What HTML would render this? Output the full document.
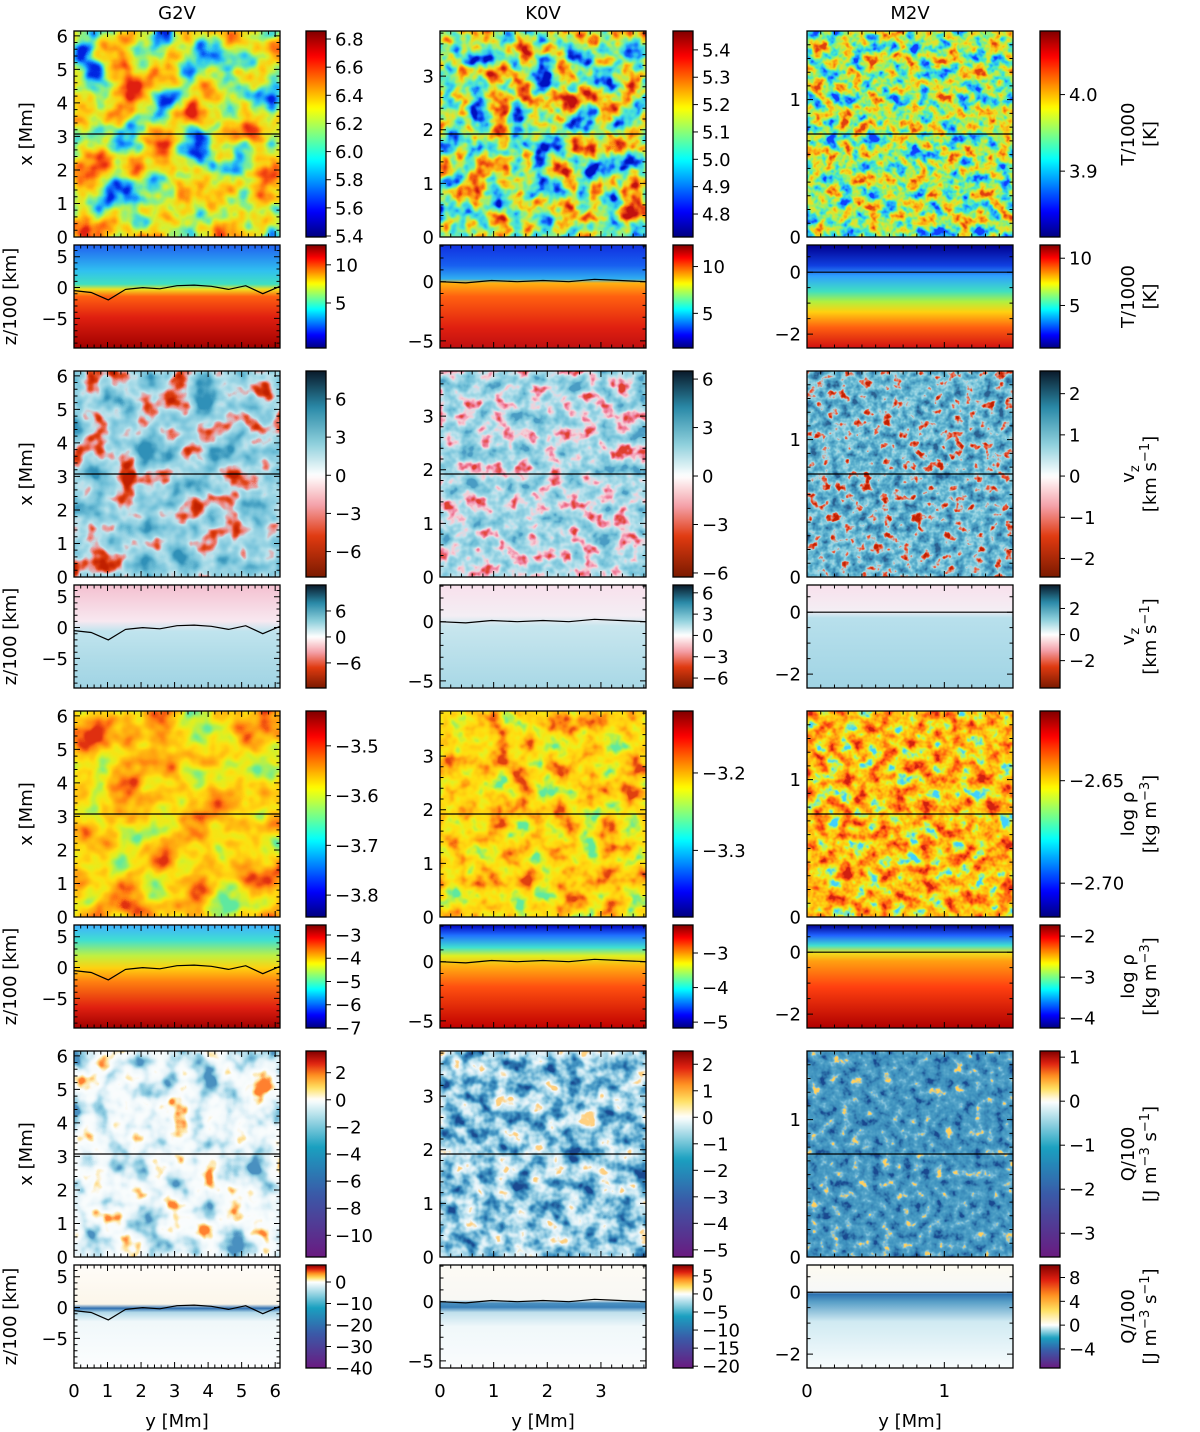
<!DOCTYPE html>
<html><head><meta charset="utf-8">
<style>
html,body{margin:0;padding:0;background:#fff;}
svg{display:block;font-family:"DejaVu Sans","Liberation Sans",sans-serif;}
</style></head>
<body>
<svg id="fig" width="1200" height="1432" viewBox="0 0 1200 1432" xmlns="http://www.w3.org/2000/svg">
<defs id="defs"></defs>
</svg>
<script>
// ---------- data ----------
const starNames = ["G2V","K0V","M2V"];
const extentMm = [6.144, 3.84, 1.5];
const xTicks = [[0,1,2,3,4,5,6],[0,1,2,3],[0,1]];
const xMinorStep = [0.2, 0.2, 0.1];
const zRange = [[-9.8,6.9],[-5.6,3.1],[-2.45,0.88]];
const zTicks = [[-5,0,5],[-5,0],[-2,0]];
const zMinorStep = [1, 1, 0.5];
const zeroLineG2V = [-0.5,-0.8,-2.0,-0.3,0.0,-0.2,0.3,0.4,0.2,-0.3,0.3,-1.0,0.2];
const zeroLineK0V = [0.0,-0.1,0.1,0.0,0.1,0.0,0.2,0.1,0.0];
const zeroLineM2V = [0,0,0,0,0];
const zeroLines = [zeroLineG2V, zeroLineK0V, zeroLineM2V];

const cbTRangeTop = [[5.393,6.857],[4.716,5.469],[3.814,4.083]];
const cbTTicksTop = [[5.4,5.6,5.8,6.0,6.2,6.4,6.6,6.8],[4.8,4.9,5.0,5.1,5.2,5.3,5.4],[3.9,4.0]];
const cbTRangeSide = [[-0.9,12.6],[1.3,12.3],[0.5,11.4]];
const cbTTicksSide = [[5,10],[5,10],[5,10]];
const cbVRangeTop = [[-8.0,8.2],[-6.25,6.5],[-2.45,2.55]];
const cbVTicksTop = [[-6,-3,0,3,6],[-6,-3,0,3,6],[-2,-1,0,1,2]];
const cbVRangeSide = [[-11.8,12],[-7.4,7.1],[-4.1,3.8]];
const cbVTicksSide = [[-6,0,6],[-6,-3,0,3,6],[-2,0,2]];
const cbRRangeTop = [[-3.844,-3.43],[-3.386,-3.12],[-2.7165,-2.616]];
const cbRTicksTop = [[-3.8,-3.7,-3.6,-3.5],[-3.3,-3.2],[-2.70,-2.65]];
const cbRRangeSide = [[-7.0,-2.57],[-5.17,-2.19],[-4.24,-1.73]];
const cbRTicksSide = [[-7,-6,-5,-4,-3],[-5,-4,-3],[-4,-3,-2]];
const cbQRangeTop = [[-11.6,3.6],[-5.27,2.5],[-3.54,1.14]];
const cbQTicksTop = [[-10,-8,-6,-4,-2,0,2],[-5,-4,-3,-2,-1,0,1,2],[-3,-2,-1,0,1]];
const cbQRangeSide = [[-40,7.9],[-20.5,8],[-7.2,10.1]];
const cbQTicksSide = [[-40,-30,-20,-10,0],[-20,-15,-10,-5,0,5],[-4,0,4,8]];
const tickDecimals = [[1,1,1],[0,0,0],[0,0,0],[0,0,0],[1,1,2],[0,0,0],[0,0,0],[0,0,0]];

const rightLabels = [["T/1000","[K]"],["T/1000","[K]"],["v_z","[km s^-1]"],["v_z","[km s^-1]"],["log ρ","[kg m^-3]"],["log ρ","[kg m^-3]"],["Q/100","[J m^-3 s^-1]"],["Q/100","[J m^-3 s^-1]"]];

const texT = [["#0020e0","#1080ff","#30d0f0","#80f090","#d8f030","#ffd010","#ffa010","#ff6010","#e02010"],
              ["#0010c0","#1060ff","#30c8f0","#50e8d0","#a0f070","#f0e020","#ffa010","#f05010","#c01010"],
              ["#1040ff","#20b0ff","#40e8d0","#a0f060","#f0e020","#ffa010","#e04010"]];
const texV = [["#c02000","#e04010","#f09090","#c0e4ee","#a0d8e6","#88cce0","#70c0d8","#50a8c8","#3090b8"],
              ["#e04030","#f080a0","#f8d0d8","#c0e4ee","#a0d8e6","#88cce0","#70c0d8","#4a9cc4"],
              ["#c02000","#f06040","#a8dce8","#80c8dc","#60b4d0","#4aa0c4","#3a88b4","#2a6090"]];
const texR = [["#60e8a0","#a0f060","#e0f020","#ffe010","#ffc010","#ffa010","#ff7010","#e03010"],
              ["#60e8a0","#b0f050","#e8f020","#ffe010","#ffd010","#ffb010","#ff8010","#e04010"],
              ["#40d0ff","#90f0a0","#e8f020","#ffd010","#ffb010","#ff8010","#ff5010","#d02010"]];
const texQ = [["#4a90c0","#80c4dc","#b0dcec","#d8eef6","#eef7fb","#f8fcfd","#fbfdfe","#ffe090","#ff8030"],
              ["#1a4a90","#2a78b0","#4a9cc8","#80c0dc","#b0dcec","#d8eef6","#f0f8fb","#ffd080"],
              ["#1a4a90","#2a70a8","#3a88b8","#4094c0","#4a9cc4","#5aa8cc","#80c0dc","#ffd060"]];
const texFreq = [0.028, 0.045, 0.075];

const sideT = [[[0,"#2060f0"],[0.25,"#30c0f0"],[0.38,"#40e0c0"],[0.43,"#f0e020"],[0.5,"#ff6010"],[0.7,"#e02010"],[1,"#a00000"]],
               [[0,"#1030e0"],[0.2,"#1860f0"],[0.33,"#30b0f0"],[0.37,"#ffb010"],[0.5,"#ff6010"],[0.8,"#e02010"],[1,"#c01010"]],
               [[0,"#000090"],[0.2,"#1040e0"],[0.3,"#30a0ff"],[0.45,"#40e0c0"],[0.55,"#b0f040"],[0.65,"#ffd010"],[0.8,"#ff6010"],[1,"#d01010"]]];
const sideV = [[[0,"#f4c0d0"],[0.35,"#f8e8f0"],[0.45,"#c0e4ee"],[0.7,"#b0dce8"],[1,"#a0d4e4"]],
               [[0,"#f8e0ec"],[0.3,"#f4eef4"],[0.4,"#c8e6ee"],[1,"#a8d8e6"]],
               [[0,"#f8e0ec"],[0.25,"#f4eef4"],[0.32,"#b8e0ec"],[1,"#a0d4e4"]]];
const sideR = [[[0,"#40b0ff"],[0.15,"#40e0d0"],[0.3,"#c0f040"],[0.42,"#ffd010"],[0.55,"#ff8010"],[0.8,"#e02010"],[1,"#a00000"]],
               [[0,"#0000c0"],[0.1,"#2070ff"],[0.22,"#40e0d0"],[0.3,"#e0f020"],[0.4,"#ffb010"],[0.6,"#ff5010"],[1,"#c00000"]],
               [[0,"#000090"],[0.1,"#2060ff"],[0.2,"#40e0d0"],[0.27,"#f0e020"],[0.35,"#ffa010"],[0.6,"#ff4010"],[1,"#b00000"]]];
const sideQ = [[[0,"#fffcf8"],[0.38,"#fbf6ea"],[0.42,"#3070b0"],[0.46,"#b0d8e8"],[0.55,"#f0f8fa"],[1,"#fcfdfe"]],
               [[0,"#fdfaf4"],[0.34,"#f8f8f4"],[0.37,"#4a90c0"],[0.41,"#3a80b8"],[0.46,"#c0e0ec"],[0.6,"#f0f8fa"],[1,"#fafcfd"]],
               [[0,"#fdfaf0"],[0.26,"#f6f8f8"],[0.28,"#2a70b0"],[0.36,"#5aa0c8"],[0.55,"#d0eaf2"],[1,"#f8fcfd"]]];

// ---------- layout ----------
const panelX = [74, 440, 807];
const cbX = [306, 673, 1040];
const rowTopY = [31, 371, 711, 1051];
const PW = 206, PH = 206, SH = 103, SOFF = 214, CBW = 20;

const NS = "http://www.w3.org/2000/svg";
const svg = document.getElementById("fig");
const defs = document.getElementById("defs");
function el(tag, attrs, parent) {
  const e = document.createElementNS(NS, tag);
  for (const k in attrs) e.setAttribute(k, attrs[k]);
  (parent || svg).appendChild(e);
  return e;
}
function fmt(v, d) { const s = Math.abs(v).toFixed(d); return (v < -1e-9 ? "\u2212" : "") + s; }
function hex(c){return [parseInt(c.slice(1,3),16)/255,parseInt(c.slice(3,5),16)/255,parseInt(c.slice(5,7),16)/255];}
function rgb(r,g,b){const f=x=>Math.round(Math.max(0,Math.min(1,x))*255);return `rgb(${f(r)},${f(g)},${f(b)})`;}
function jet(t){return rgb(1.5-Math.abs(4*t-3),1.5-Math.abs(4*t-2),1.5-Math.abs(4*t-1));}
function interp(stops, t){
  for(let i=1;i<stops.length;i++){ if(t<=stops[i][0]){const a=stops[i-1],b=stops[i];const u=(t-a[0])/(b[0]-a[0]||1);const ca=hex(a[1]),cb=hex(b[1]);return rgb(ca[0]+(cb[0]-ca[0])*u,ca[1]+(cb[1]-ca[1])*u,ca[2]+(cb[2]-ca[2])*u);} }
  return stops[stops.length-1][1];
}
const vzNeg=[[0,"#7a1a00"],[0.4,"#e03a10"],[0.7,"#f4a0a8"],[1,"#ffffff"]];
const vzPos=[[0,"#ffffff"],[0.3,"#8fd0dc"],[0.65,"#2a8aa8"],[1,"#0a1a2a"]];
const qNeg=[[0,"#6a1a80"],[0.4,"#3a5aa8"],[0.7,"#1aa0c0"],[1,"#ffffff"]];
const qPos=[[0,"#ffffff"],[0.25,"#ffe060"],[0.5,"#ff9020"],[0.75,"#e02010"],[1,"#800000"]];
function divmap(neg,pos){return (v,mn,mx)=> v<0? interp(neg,1-v/mn) : interp(pos,v/mx);}
const cmaps = {T:(v,mn,mx)=>jet((v-mn)/(mx-mn)), R:(v,mn,mx)=>jet((v-mn)/(mx-mn)), V:divmap(vzNeg,vzPos), Q:divmap(qNeg,qPos)};

const quantities = [
  {key:"T", top:[cbTRangeTop,cbTTicksTop], side:[cbTRangeSide,cbTTicksSide], tex:texT, prof:sideT},
  {key:"V", top:[cbVRangeTop,cbVTicksTop], side:[cbVRangeSide,cbVTicksSide], tex:texV, prof:sideV},
  {key:"R", top:[cbRRangeTop,cbRTicksTop], side:[cbRRangeSide,cbRTicksSide], tex:texR, prof:sideR},
  {key:"Q", top:[cbQRangeTop,cbQTicksTop], side:[cbQRangeSide,cbQTicksSide], tex:texQ, prof:sideQ}
];
const qNames = ["temperature","vz","density","heating"];

starNames.forEach((n,c)=>{
  const t = el("text",{x:panelX[c]+PW/2,y:19,"text-anchor":"middle","font-size":18,fill:"#000"});
  t.textContent = n;
  
  
});

function drawTicksBox(x,y,w,h,sxTicks,sxMinor,syTicks,syMinor,sx,sy,g){
  const path=[];
  sxTicks.forEach(v=>{const px=sx(v);path.push(`M${px},${y+h}v-6M${px},${y}v6`);});
  sxMinor.forEach(v=>{const px=sx(v);path.push(`M${px},${y+h}v-3.5M${px},${y}v3.5`);});
  syTicks.forEach(v=>{const py=sy(v);path.push(`M${x},${py}h6M${x+w},${py}h-6`);});
  syMinor.forEach(v=>{const py=sy(v);path.push(`M${x},${py}h3.5M${x+w},${py}h-3.5`);});
  el("path",{d:path.join(""),stroke:"#000","stroke-width":1,fill:"none"},g);
  el("rect",{x:x,y:y,width:w,height:h,fill:"none",stroke:"#000","stroke-width":1.3},g);
}
function minors(a,b,step){const r=[];for(let v=Math.ceil(a/step)*step;v<=b+1e-9;v+=step)r.push(+v.toFixed(4));return r;}

function colorbar(x,y,h,range,ticks,cmap,dec,name){
  const g = el("g",{});
  
  
  const id="grad-"+name;
  const lg=el("linearGradient",{id:id,x1:0,y1:1,x2:0,y2:0},defs);
  const n=60;
  for(let i=0;i<=n;i++){const v=range[0]+(range[1]-range[0])*i/n;el("stop",{offset:i/n,"stop-color":cmap(v,range[0],range[1])},lg);}
  el("rect",{x:x,y:y,width:CBW,height:h,fill:`url(#${id})`},g);
  el("rect",{x:x,y:y,width:CBW,height:h,fill:"none",stroke:"#000","stroke-width":1.3},g);
  const sy=v=>y+h-(v-range[0])/(range[1]-range[0])*h;
  ticks.forEach(v=>{
    const py=sy(v);
    el("line",{x1:x+CBW,y1:py,x2:x+CBW+5,y2:py,stroke:"#000","stroke-width":1},g);
    const t=el("text",{x:x+CBW+9,y:py+6.5,"font-size":18,fill:"#000"},g);
    t.textContent=fmt(v,dec);
  });
}

function texFilter(id,colors,freq,seed){
  const f=el("filter",{id:id,x:0,y:0,width:1,height:1,"color-interpolation-filters":"sRGB"},defs);
  el("feTurbulence",{type:"fractalNoise",baseFrequency:freq,numOctaves:3,seed:seed,result:"n"},f);
  el("feColorMatrix",{type:"matrix",values:"1 0 0 0 0  1 0 0 0 0  1 0 0 0 0  0 0 0 0 1"},f);
  const ct=el("feComponentTransfer",{},f);
  const ch=[[],[],[]];
  const N=40;
  for(let i=0;i<=N;i++){let t=(i/N-0.22)/0.56;t=Math.max(0,Math.min(1,t));
    const pos=t*(colors.length-1);const a=Math.floor(pos),b=Math.min(colors.length-1,a+1),u=pos-a;
    const ca=hex(colors[a]),cb=hex(colors[b]);
    for(let k=0;k<3;k++)ch[k].push((ca[k]+(cb[k]-ca[k])*u).toFixed(3));}
  el("feFuncR",{type:"table",tableValues:ch[0].join(" ")},ct);
  el("feFuncG",{type:"table",tableValues:ch[1].join(" ")},ct);
  el("feFuncB",{type:"table",tableValues:ch[2].join(" ")},ct);
}

quantities.forEach((q,r)=>{
  const ty=rowTopY[r], sy0=ty+SOFF;
  for(let c=0;c<3;c++){
    const x=panelX[c], L=extentMm[c];
    const sxTop=v=>x+v/L*PW;
    const g=el("g",{});
    
    
    const fid=`tex-${r}-${c}`;
    texFilter(fid,q.tex[c],texFreq[c]*(q.key==="V"||q.key==="Q"?1.3:1),r*7+c*3+1);
    el("rect",{x:x,y:ty,width:PW,height:PH,fill:q.tex[c][Math.floor(q.tex[c].length/2)],filter:`url(#${fid})`},g);
    const syTop=v=>ty+PH-v/L*PH;
    el("line",{x1:x,y1:syTop(L/2),x2:x+PW,y2:syTop(L/2),stroke:"#000","stroke-width":1.2},g);
    drawTicksBox(x,ty,PW,PH,xTicks[c],minors(0,L,xMinorStep[c]),xTicks[c],minors(0,L,xMinorStep[c]),sxTop,syTop,g);
    xTicks[c].forEach(v=>{const t=el("text",{x:x-6,y:syTop(v)+6.5,"text-anchor":"end","font-size":18,fill:"#000"},g);t.textContent=fmt(v,0);});
    const gs=el("g",{});
    
    
    const zr=zRange[c];
    const syS=v=>sy0+SH-(v-zr[0])/(zr[1]-zr[0])*SH;
    const gid=`side-${r}-${c}`;
    const lg=el("linearGradient",{id:gid,x1:0,y1:0,x2:0,y2:1},defs);
    q.prof[c].forEach(s=>el("stop",{offset:s[0],"stop-color":s[1]},lg));
    el("rect",{x:x,y:sy0,width:PW,height:SH,fill:`url(#${gid})`},gs);
    const zl=zeroLines[c];
    const pts=zl.map((v,i)=>`${sxTop(i/(zl.length-1)*L).toFixed(1)},${syS(v).toFixed(1)}`).join(" ");
    const zline=el("polyline",{points:pts,fill:"none",stroke:"#000","stroke-width":1.2},gs);
    
    
    drawTicksBox(x,sy0,PW,SH,xTicks[c],minors(0,L,xMinorStep[c]),zTicks[c],minors(zr[0],zr[1],zMinorStep[c]),sxTop,syS,gs);
    zTicks[c].forEach(v=>{const t=el("text",{x:x-6,y:syS(v)+6.5,"text-anchor":"end","font-size":18,fill:"#000"},gs);t.textContent=fmt(v,0);});
    colorbar(cbX[c],ty,PH,q.top[0][c],q.top[1][c],cmaps[q.key],tickDecimals[2*r][c],`colorbar-${qNames[r]}-map-${starNames[c].toLowerCase()}`);
    colorbar(cbX[c],sy0,SH,q.side[0][c],q.side[1][c],cmaps[q.key],tickDecimals[2*r+1][c],`colorbar-${qNames[r]}-slice-${starNames[c].toLowerCase()}`);
  }
  const lx=el("text",{transform:`translate(32,${ty+PH/2}) rotate(-90)`,"text-anchor":"middle","font-size":18,fill:"#000"});
  lx.textContent="x [Mm]";
  
  
  const lz=el("text",{transform:`translate(16,${sy0+SH/2}) rotate(-90)`,"text-anchor":"middle","font-size":18,fill:"#000"});
  lz.textContent="z/100 [km]";
  
  
  [[ty,PH,rightLabels[2*r]],[sy0,SH,rightLabels[2*r+1]]].forEach(([yy,hh,lab])=>{
    const cy=yy+hh/2;
    [[1128,lab[0]],[1150,lab[1]]].forEach(([xx,s])=>{
      const t=el("text",{transform:`translate(${xx+6},${cy}) rotate(-90)`,"text-anchor":"middle","font-size":18,fill:"#000"});
      
      
      const parts=s.split(/(\^-?\d+|_z)/);
      let shift=0;
      parts.forEach(p=>{ if(!p)return;
        if(p.startsWith("^")){const ts=el("tspan",{dy:-7-shift,"font-size":13},t);ts.textContent=p.slice(1).replace("-","\u2212");shift=-7;}
        else if(p==="_z"){const ts=el("tspan",{dy:5-shift,"font-size":13},t);ts.textContent="z";shift=5;}
        else {const ts=el("tspan",{dy:-shift},t);ts.textContent=p;shift=0;}
      });
    });
  });
});

for(let c=0;c<3;c++){
  const L=extentMm[c];
  xTicks[c].forEach(v=>{const t=el("text",{x:panelX[c]+v/L*PW,y:1397,"text-anchor":"middle","font-size":18,fill:"#000"});t.textContent=fmt(v,0);});
  const t=el("text",{x:panelX[c]+PW/2,y:1427,"text-anchor":"middle","font-size":18,fill:"#000"});
  t.textContent="y [Mm]";
  
  
}
</script>
</body></html>
